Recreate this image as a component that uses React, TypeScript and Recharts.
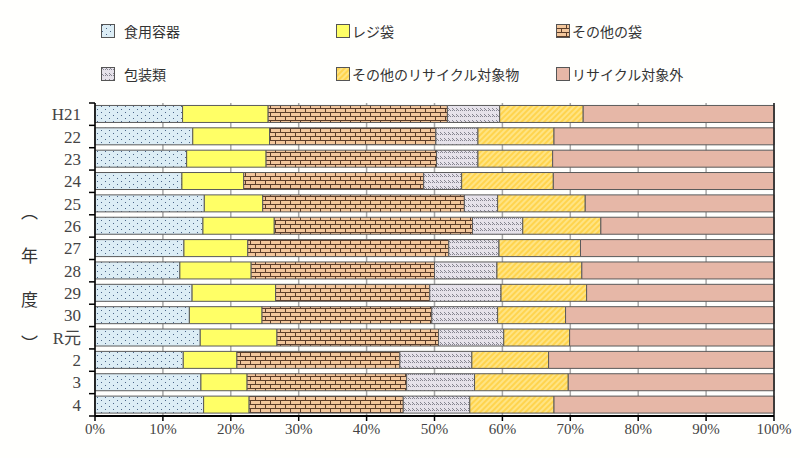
import React from "react";
import {
  BarChart,
  Bar,
  XAxis,
  YAxis,
  CartesianGrid,
  ReferenceLine,
} from "recharts";

const years = ["H21", "22", "23", "24", "25", "26", "27", "28", "29", "30", "R元", "2", "3", "4"];

// percentages
const shokuyo = [12.9, 14.4, 13.5, 12.8, 16.1, 15.9, 13.1, 12.5, 14.3, 13.9, 15.5, 13.0, 15.6, 16.0];
const rejibukuro = [12.6, 11.3, 11.7, 9.1, 8.6, 10.5, 9.4, 10.5, 12.3, 10.7, 11.3, 7.9, 6.8, 6.7];
const sonotaFukuro = [26.4, 24.5, 25.1, 26.5, 29.7, 29.2, 29.6, 27.0, 22.7, 25.0, 23.8, 24.0, 23.5, 22.7];
const hosoRui = [7.7, 6.2, 6.1, 5.6, 4.9, 7.4, 7.4, 9.2, 10.5, 9.7, 9.6, 10.6, 10.0, 9.8];
const sonotaRecycle = [12.3, 11.2, 11.0, 13.5, 12.9, 11.5, 12.0, 12.5, 12.6, 10.0, 9.7, 11.3, 13.8, 12.4];
const recycleGai = [28.1, 32.4, 32.6, 32.5, 27.8, 25.5, 28.5, 28.3, 27.6, 30.7, 30.1, 33.2, 30.3, 32.4];

const xTicks = [0, 0.1, 0.2, 0.3, 0.4, 0.5, 0.6, 0.7, 0.8, 0.9, 1];

const series = [
  { key: "shokuyo", name: "食用容器", fill: "url(#pFood)" },
  { key: "reji", name: "レジ袋", fill: "#ffff66" },
  { key: "sonotaFukuro", name: "その他の袋", fill: "url(#pBrick)" },
  { key: "hoso", name: "包装類", fill: "url(#pHatch)" },
  { key: "sonotaRecycle", name: "その他のリサイクル対象物", fill: "url(#pGold)" },
  { key: "gai", name: "リサイクル対象外", fill: "#e6b7a7" },
];

const data = years.map((y, i) => ({
  year: y,
  shokuyo: shokuyo[i],
  reji: rejibukuro[i],
  sonotaFukuro: sonotaFukuro[i],
  hoso: hosoRui[i],
  sonotaRecycle: sonotaRecycle[i],
  gai: recycleGai[i],
}));

const W = 800;
const H = 458;
const MARGIN = { top: 103, right: 26, left: 0, bottom: 12 };
const X_AXIS_H = 30;
const Y_AXIS_W = 95;
const PLOT_H = H - MARGIN.top - MARGIN.bottom - X_AXIS_H;
const BAND = PLOT_H / years.length;

const tickFont = "'Liberation Serif', 'Noto Sans CJK JP', serif";
const labelFont = "'Noto Sans CJK JP', sans-serif";

function YTick(props: any) {
  const { x, y, payload, index } = props;
  const axisX = Y_AXIS_W;
  return (
    <g>
      <text
        x={x}
        y={y}
        dy={6}
        textAnchor="end"
        fontSize={17}
        fill="#444"
        fontFamily={tickFont}
      >
        {payload.value}
      </text>
      <line x1={axisX - 6} x2={axisX} y1={y + BAND / 2} y2={y + BAND / 2} stroke="#000" strokeWidth={1.5} />
      {index === 0 && (
        <line x1={axisX - 6} x2={axisX} y1={y - BAND / 2} y2={y - BAND / 2} stroke="#000" strokeWidth={1.5} />
      )}
    </g>
  );
}

function Patterns() {
  return (
    <defs>
      <pattern id="pFood" width="8" height="6" patternUnits="userSpaceOnUse">
        <rect width="8" height="6" fill="#dcedf5" />
        <rect x="1" y="1" width="1" height="1" fill="#4a6488" />
        <rect x="5" y="4" width="1" height="1" fill="#4a6488" />
      </pattern>
      <pattern id="pBrick" width="10" height="8" patternUnits="userSpaceOnUse">
        <rect width="10" height="8" fill="#f3c79c" />
        <line x1="0" x2="10" y1="0.5" y2="0.5" stroke="#5c3e2a" strokeWidth="1" />
        <line x1="0" x2="10" y1="4.5" y2="4.5" stroke="#5c3e2a" strokeWidth="1" />
        <line x1="0.5" x2="0.5" y1="0" y2="4" stroke="#5c3e2a" strokeWidth="1" />
        <line x1="5.5" x2="5.5" y1="4" y2="8" stroke="#5c3e2a" strokeWidth="1" />
      </pattern>
      <pattern id="pHatch" width="4" height="6" patternUnits="userSpaceOnUse">
        <rect width="4" height="6" fill="#e6e2ea" />
        <path d="M0 0 L3 3 M-1 1 L1 3" stroke="#7c7a86" strokeWidth="0.9" />
      </pattern>
      <pattern
        id="pGold"
        width="4"
        height="4"
        patternUnits="userSpaceOnUse"
        patternTransform="rotate(45)"
      >
        <rect width="4" height="4" fill="#ffd44e" />
        <line x1="1" x2="1" y1="0" y2="4" stroke="#fff0a8" strokeWidth="1.2" />
      </pattern>
    </defs>
  );
}

function LegendBox() {
  const cols = [101, 336, 556];
  const rows = [31, 74];
  return (
    <>
      {series.map((s, i) => {
        const left = cols[i % 3];
        const top = rows[Math.floor(i / 3)];
        return (
          <div
            key={s.key}
            style={{
              position: "absolute",
              left,
              top: top - 9,
              height: 18,
              display: "flex",
              alignItems: "center",
              fontFamily: labelFont,
              fontSize: 14,
              color: "#333",
              whiteSpace: "nowrap",
            }}
          >
            <svg width={14} height={14} style={{ marginRight: i === 0 || i === 3 ? 9 : 2 }}>
              <rect x={0.5} y={0.5} width={13} height={13} fill={s.fill} stroke="#555" />
            </svg>
            <span>{s.name}</span>
          </div>
        );
      })}
    </>
  );
}

export default function App() {
  return (
    <div
      style={{
        position: "absolute",
        left: 0,
        top: 0,
        width: W,
        height: H,
        background: "#fffffd",
        overflow: "hidden",
      }}
    >
      <BarChart
        width={W}
        height={H}
        data={data}
        layout="vertical"
        stackOffset="expand"
        margin={MARGIN}
        barCategoryGap="11%"
      >
        <Patterns />
        <CartesianGrid horizontal={false} vertical stroke="#a8a8a8" strokeWidth={1.5} />
        <XAxis
          type="number"
          domain={[0, 1]}
          ticks={xTicks}
          tickFormatter={(v: number) => `${Math.round(v * 100)}%`}
          height={X_AXIS_H}
          axisLine={{ stroke: "#000", strokeWidth: 2 }}
          tickLine={{ stroke: "#000", strokeWidth: 1.5 }}
          tickSize={5}
          tick={{ fill: "#444", fontSize: 15, fontFamily: tickFont }}
          interval={0}
        />
        <XAxis
          xAxisId="top"
          orientation="top"
          type="number"
          domain={[0, 1]}
          height={0}
          tick={false}
          tickLine={false}
          axisLine={{ stroke: "#222", strokeWidth: 1.5 }}
        />
        <YAxis
          type="category"
          dataKey="year"
          width={Y_AXIS_W}
          axisLine={{ stroke: "#000", strokeWidth: 1.5 }}
          tickLine={false}
          tickSize={0}
          tickMargin={14}
          tick={<YTick />}
          interval={0}
        />
        {series.map((s) => (
          <Bar
            key={s.key}
            dataKey={s.key}
            name={s.name}
            stackId="a"
            fill={s.fill}
            stroke="#5a5a5a"
            strokeWidth={1}
            isAnimationActive={false}
          />
        ))}
        <ReferenceLine x={1} stroke="#222" strokeWidth={1.5} />
      </BarChart>
      <LegendBox />
      <div
        style={{
          position: "absolute",
          left: 17,
          top: 203,
          writingMode: "vertical-rl",
          fontFamily: labelFont,
          fontSize: 17,
          color: "#333",
          letterSpacing: 27,
        }}
      >
        （年度）
      </div>
    </div>
  );
}
